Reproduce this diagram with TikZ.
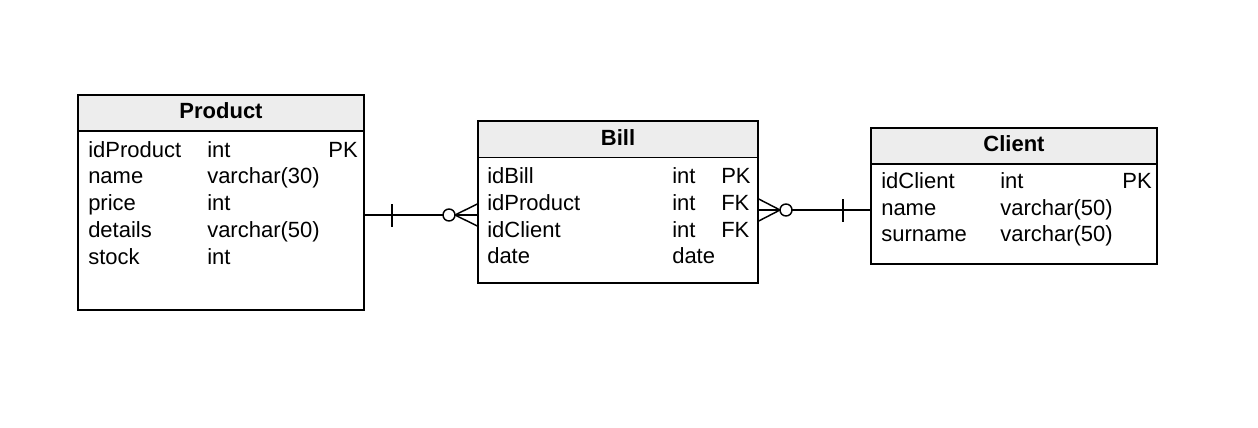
\documentclass[tikz,border=0pt]{standalone}
\usepackage{fontspec}
\setmainfont{Liberation Sans}
\begin{document}
\begin{tikzpicture}[x=0.75pt,y=-0.75pt,
  tbl/.style={draw,line width=1.1pt,inner sep=0pt,fill=white},
  hdr/.style={draw,line width=1.1pt,inner sep=0pt,fill=black!7},
  htxt/.style={font=\fontsize{16.5}{19}\selectfont\bfseries,inner sep=0pt},
  ftxt/.style={font=\fontsize{16.5}{19}\selectfont,inner sep=0pt,anchor=base west},
  rtxt/.style={font=\fontsize{16.5}{19}\selectfont,inner sep=0pt,anchor=base east},
  rel/.style={line width=1.1pt}]
\useasboundingbox (0,0) rectangle (1258,428);
% Product
\node[tbl,minimum width=214.5pt,minimum height=161.25pt] (product) at (221,202.5) {};
\node[hdr,minimum width=214.5pt,minimum height=27pt] (producth) at (221,113) {};
\node[htxt] (productt) at (221,111) {Product};
\node[ftxt] (p1a) at (88,157) {idProduct};
\node[ftxt] (p1b) at (207,157) {int};
\node[rtxt] (p1c) at (358,157) {PK};
\node[ftxt] (p2a) at (88,184) {name};
\node[ftxt] (p2b) at (207,184) {varchar(30)};
\node[ftxt] (p3a) at (88,210.5) {price};
\node[ftxt] (p3b) at (207,210.5) {int};
\node[ftxt] (p4a) at (88,237) {details};
\node[ftxt] (p4b) at (207,237) {varchar(50)};
\node[ftxt] (p5a) at (88,264) {stock};
\node[ftxt] (p5b) at (207,264) {int};
% Bill
\node[tbl,minimum width=210pt,minimum height=121.5pt] (bill) at (618,202) {};
\node[hdr,minimum width=210pt,minimum height=27.4pt] (billh) at (618,139.25) {};
\node[htxt] (billt) at (618,137.5) {Bill};
\node[ftxt] (b1a) at (487,184) {idBill};
\node[ftxt] (b1b) at (672,184) {int};
\node[ftxt] (b1c) at (721,184) {PK};
\node[ftxt] (b2a) at (487,210.5) {idProduct};
\node[ftxt] (b2b) at (672,210.5) {int};
\node[ftxt] (b2c) at (721,210.5) {FK};
\node[ftxt] (b3a) at (487,237) {idClient};
\node[ftxt] (b3b) at (672,237) {int};
\node[ftxt] (b3c) at (721,237) {FK};
\node[ftxt] (b4a) at (487,263) {date};
\node[ftxt] (b4b) at (672,263) {date};
% Client
\node[tbl,minimum width=214.5pt,minimum height=102pt] (client) at (1014,196) {};
\node[hdr,minimum width=214.5pt,minimum height=27pt] (clienth) at (1014,146) {};
\node[htxt] (clientt) at (1014,144) {Client};
\node[ftxt] (c1a) at (881,188.5) {idClient};
\node[ftxt] (c1b) at (1000,188.5) {int};
\node[rtxt] (c1c) at (1152,188.5) {PK};
\node[ftxt] (c2a) at (881,215) {name};
\node[ftxt] (c2b) at (1000,215) {varchar(50)};
\node[ftxt] (c3a) at (881,241.5) {surname};
\node[ftxt] (c3b) at (1000,241.5) {varchar(50)};
% Relation Product -- Bill (one to zero-or-many)
\draw[rel] (product.east |- 0,215) coordinate (r1s) -- (bill.west |- 0,215) coordinate (r1e);
\draw[rel] (392,204) -- (392,227);
\draw[rel] (bill.west |- 0,204) -- (455,215) -- (bill.west |- 0,226);
\draw[rel,fill=white] (449,215) circle[radius=4.5pt];
% Relation Bill -- Client (zero-or-many to one)
\draw[rel] (bill.east |- 0,210) coordinate (r2s) -- (client.west |- 0,210) coordinate (r2e);
\draw[rel] (bill.east |- 0,199) -- (780,210) -- (bill.east |- 0,221);
\draw[rel,fill=white] (786,210) circle[radius=4.5pt];
\draw[rel] (843,199) -- (843,222);
\end{tikzpicture}
\end{document}
